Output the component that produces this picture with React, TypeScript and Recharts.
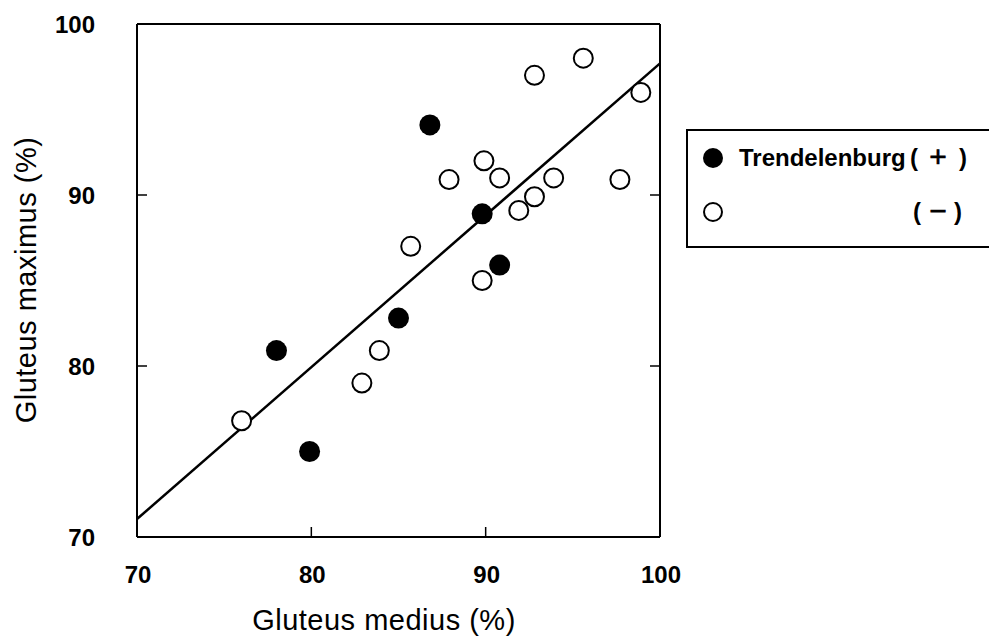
import { ScatterChart, Scatter, XAxis, YAxis, ReferenceLine, Legend, Label } from "recharts"

// Trendelenburg (+) : filled circles
const plusMedius = [78.0, 79.9, 85.0, 86.8, 89.8, 90.8]
const plusMaximus = [80.9, 75.0, 82.8, 94.1, 88.9, 85.9]

// Trendelenburg (-) : open circles
const minusMedius = [76.0, 82.9, 83.9, 85.7, 87.9, 89.8, 89.9, 90.8, 91.9, 92.8, 93.9, 92.8, 95.6, 97.7, 98.9]
const minusMaximus = [76.8, 79.0, 80.9, 87.0, 90.9, 85.0, 92.0, 91.0, 89.1, 89.9, 91.0, 97.0, 98.0, 90.9, 96.0]

// regression line end points
const fitMedius = [70, 100]
const fitMaximus = [71.05, 97.7]

const axisTicks = [70, 80, 90, 100]
const innerTicks = [80, 90]

const FONT = "'Liberation Sans', Arial, Helvetica, sans-serif"

const plusData = plusMedius.map((x, i) => ({ x, y: plusMaximus[i] }))
const minusData = minusMedius.map((x, i) => ({ x, y: minusMaximus[i] }))

function BottomTick({ x, y, payload }: any) {
  const inner = innerTicks.includes(payload.value)
  return (
    <g>
      {inner && <line x1={x} y1={y} x2={x} y2={y - 10} stroke="#000" strokeWidth={1.5} />}
      <text x={x + 1} y={y + 46} textAnchor="middle" fontFamily={FONT} fontWeight="bold" fontSize={24} fill="#000">
        {payload.value}
      </text>
    </g>
  )
}

function LeftTick({ x, y, payload }: any) {
  const inner = innerTicks.includes(payload.value)
  return (
    <g>
      {inner && <line x1={x} y1={y} x2={x + 10} y2={y} stroke="#000" strokeWidth={1.5} />}
      <text x={x - 42} y={y + 9} textAnchor="end" fontFamily={FONT} fontWeight="bold" fontSize={24} fill="#000">
        {payload.value}
      </text>
    </g>
  )
}

function TopTick({ x, y }: any) {
  return <line x1={x} y1={y} x2={x} y2={y + 10} stroke="#000" strokeWidth={1.5} />
}

function RightTick({ x, y }: any) {
  return <line x1={x} y1={y} x2={x - 10} y2={y} stroke="#000" strokeWidth={1.5} />
}

const FilledDot = ({ cx, cy }: any) => <circle cx={cx} cy={cy} r={10.5} fill="#000" />
const OpenDot = ({ cx, cy }: any) => <circle cx={cx} cy={cy} r={9.5} fill="#fff" stroke="#000" strokeWidth={2} />

function LegendBox() {
  const t = { fontFamily: FONT, fontWeight: "bold", fontSize: 24, fill: "#000" } as const
  const sign = { fontFamily: FONT, fontWeight: "normal", fontSize: 30, fill: "#000", stroke: "#000", strokeWidth: 0.6 } as const
  return (
    <svg width={303} height={120} style={{ display: "block" }}>
      <rect x={1} y={1} width={400} height={117} fill="#fff" stroke="#000" strokeWidth={2} />
      <circle cx={27} cy={29} r={10} fill="#000" />
      <text x={53} y={37} {...t}>Trendelenburg</text>
      <text x={224} y={37} {...t}>(</text>
      <text x={252} y={38} textAnchor="middle" {...sign}>+</text>
      <text x={281} y={37} textAnchor="end" {...t}>)</text>
      <circle cx={27} cy={83} r={9} fill="#fff" stroke="#000" strokeWidth={2} />
      <text x={227} y={91} {...t}>(</text>
      <text x={252} y={92} textAnchor="middle" {...sign}>−</text>
      <text x={276} y={91} textAnchor="end" {...t}>)</text>
    </svg>
  )
}

export default function App() {
  return (
    <div style={{ position: "absolute", left: 0, top: 0, width: 989, height: 639, background: "#fff" }}>
      <ScatterChart width={989} height={639} margin={{ top: 14, right: 319, bottom: 0, left: 0 }}>
        <XAxis
          dataKey="x"
          type="number"
          domain={[70, 100]}
          ticks={axisTicks}
          allowDataOverflow
          height={102}
          tickSize={0}
          tickMargin={0}
          tickLine={false}
          axisLine={{ stroke: "#000", strokeWidth: 2 }}
          tick={<BottomTick />}
        >
          <Label
            content={() => (
              <text x={384} y={630} textAnchor="middle" fontFamily={FONT} fontSize={29} letterSpacing={0.5} fill="#000">
                Gluteus medius (%)
              </text>
            )}
          />
        </XAxis>
        <XAxis
          xAxisId="top"
          orientation="top"
          type="number"
          domain={[70, 100]}
          ticks={innerTicks}
          allowDataOverflow
          height={10}
          tickSize={0}
          tickMargin={0}
          tickLine={false}
          axisLine={{ stroke: "#000", strokeWidth: 2 }}
          tick={<TopTick />}
        />
        <YAxis
          dataKey="y"
          type="number"
          domain={[70, 100]}
          ticks={axisTicks}
          allowDataOverflow
          width={137}
          tickSize={0}
          tickMargin={0}
          tickLine={false}
          axisLine={{ stroke: "#000", strokeWidth: 2 }}
          tick={<LeftTick />}
        >
          <Label
            content={() => (
              <text
                x={36}
                y={280}
                transform="rotate(-90, 36, 280)"
                textAnchor="middle"
                fontFamily={FONT}
                fontSize={29}
                letterSpacing={0.5}
                fill="#000"
              >
                Gluteus maximus (%)
              </text>
            )}
          />
        </YAxis>
        <YAxis
          yAxisId="right"
          orientation="right"
          type="number"
          domain={[70, 100]}
          ticks={innerTicks}
          allowDataOverflow
          width={10}
          tickSize={0}
          tickMargin={0}
          tickLine={false}
          axisLine={{ stroke: "#000", strokeWidth: 2 }}
          tick={<RightTick />}
        />
        <ReferenceLine
          segment={[
            { x: fitMedius[0], y: fitMaximus[0] },
            { x: fitMedius[1], y: fitMaximus[1] },
          ]}
          stroke="#000"
          strokeWidth={2.5}
        />
        <Scatter name="Trendelenburg ( + )" data={plusData} shape={<FilledDot />} isAnimationActive={false} />
        <Scatter name="( − )" data={minusData} shape={<OpenDot />} isAnimationActive={false} />
        <Legend
          layout="vertical"
          align="center"
          verticalAlign="middle"
          wrapperStyle={{ left: 686, top: 129, width: 303, height: 120 }}
          content={() => <LegendBox />}
        />
      </ScatterChart>
    </div>
  )
}
